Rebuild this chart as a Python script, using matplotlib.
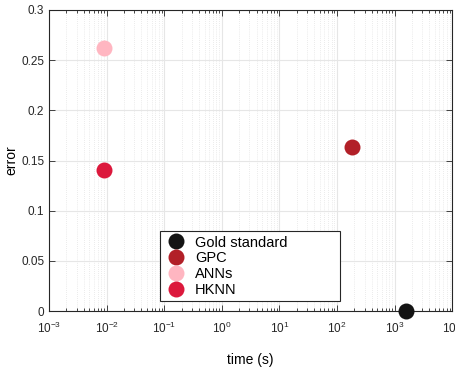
import numpy as np
import matplotlib
matplotlib.use("Agg")
import matplotlib.pyplot as plt
from matplotlib.ticker import LogLocator, NullFormatter

plt.rcParams["font.family"] = ["Liberation Sans", "DejaVu Sans"]
plt.rcParams["mathtext.fontset"] = "custom"
plt.rcParams["mathtext.rm"] = "Liberation Sans"

# data
methods = ["Gold standard", "GPC", "ANNs", "HKNN"]
times = [1550.0, 185.0, 0.0091, 0.0091]
errors = [0.0, 0.163, 0.262, 0.141]
colors = ["#141414", "#B22028", "#FFB6C1", "#DC183C"]
yticks = [0, 0.05, 0.1, 0.15, 0.2, 0.25, 0.3]
yticklabels = ["0", "0.05", "0.1", "0.15", "0.2", "0.25", "0.3"]

fig = plt.figure(figsize=(4.55, 3.69), dpi=100)
ax = fig.add_axes([0.108, 0.157, 0.886, 0.816])

for m, t, e, c in zip(methods, times, errors, colors):
    ax.plot(t, e, "o", color=c, ms=11.5, mec="none", label=m, clip_on=False, zorder=5)

ax.set_xscale("log")
ax.set_xlim(1e-3, 1e4)
ax.set_ylim(0, 0.3)
ax.set_yticks(yticks, yticklabels)
ax.xaxis.set_major_locator(LogLocator(base=10, numticks=20))
ax.xaxis.set_minor_locator(LogLocator(base=10, subs=np.arange(2, 10), numticks=20))
ax.xaxis.set_minor_formatter(NullFormatter())

ax.grid(True, which="major", color="#e6e6e6", lw=0.8)
ax.grid(True, which="minor", axis="x", color="#d8d8d8", lw=0.5, ls=(0, (1, 2)))
ax.set_axisbelow(True)

ax.tick_params(which="both", direction="in", top=True, right=True, labelsize=8.5,
               colors="#262626", width=0.6)
ax.tick_params(which="major", length=4)
ax.tick_params(which="minor", length=2)
ax.tick_params(axis="x", which="major", pad=7)
for s in ax.spines.values():
    s.set_color("#262626")
    s.set_linewidth(0.8)

ax.set_xlabel("time (s)", fontsize=10, labelpad=12)
ax.set_ylabel("error", fontsize=10, labelpad=2)

leg = ax.legend(loc="lower left", bbox_to_anchor=(0.275, 0.033, 0.447, 0.243),
                mode="expand", fontsize=10.5,
                frameon=True, fancybox=False, borderpad=0.3, handletextpad=0.5,
                labelspacing=0.12, handlelength=1.6, borderaxespad=0)
leg.get_frame().set_edgecolor("#262626")
leg.get_frame().set_linewidth(0.8)
leg.get_frame().set_alpha(1)

fig.savefig("out.png", dpi=100)
